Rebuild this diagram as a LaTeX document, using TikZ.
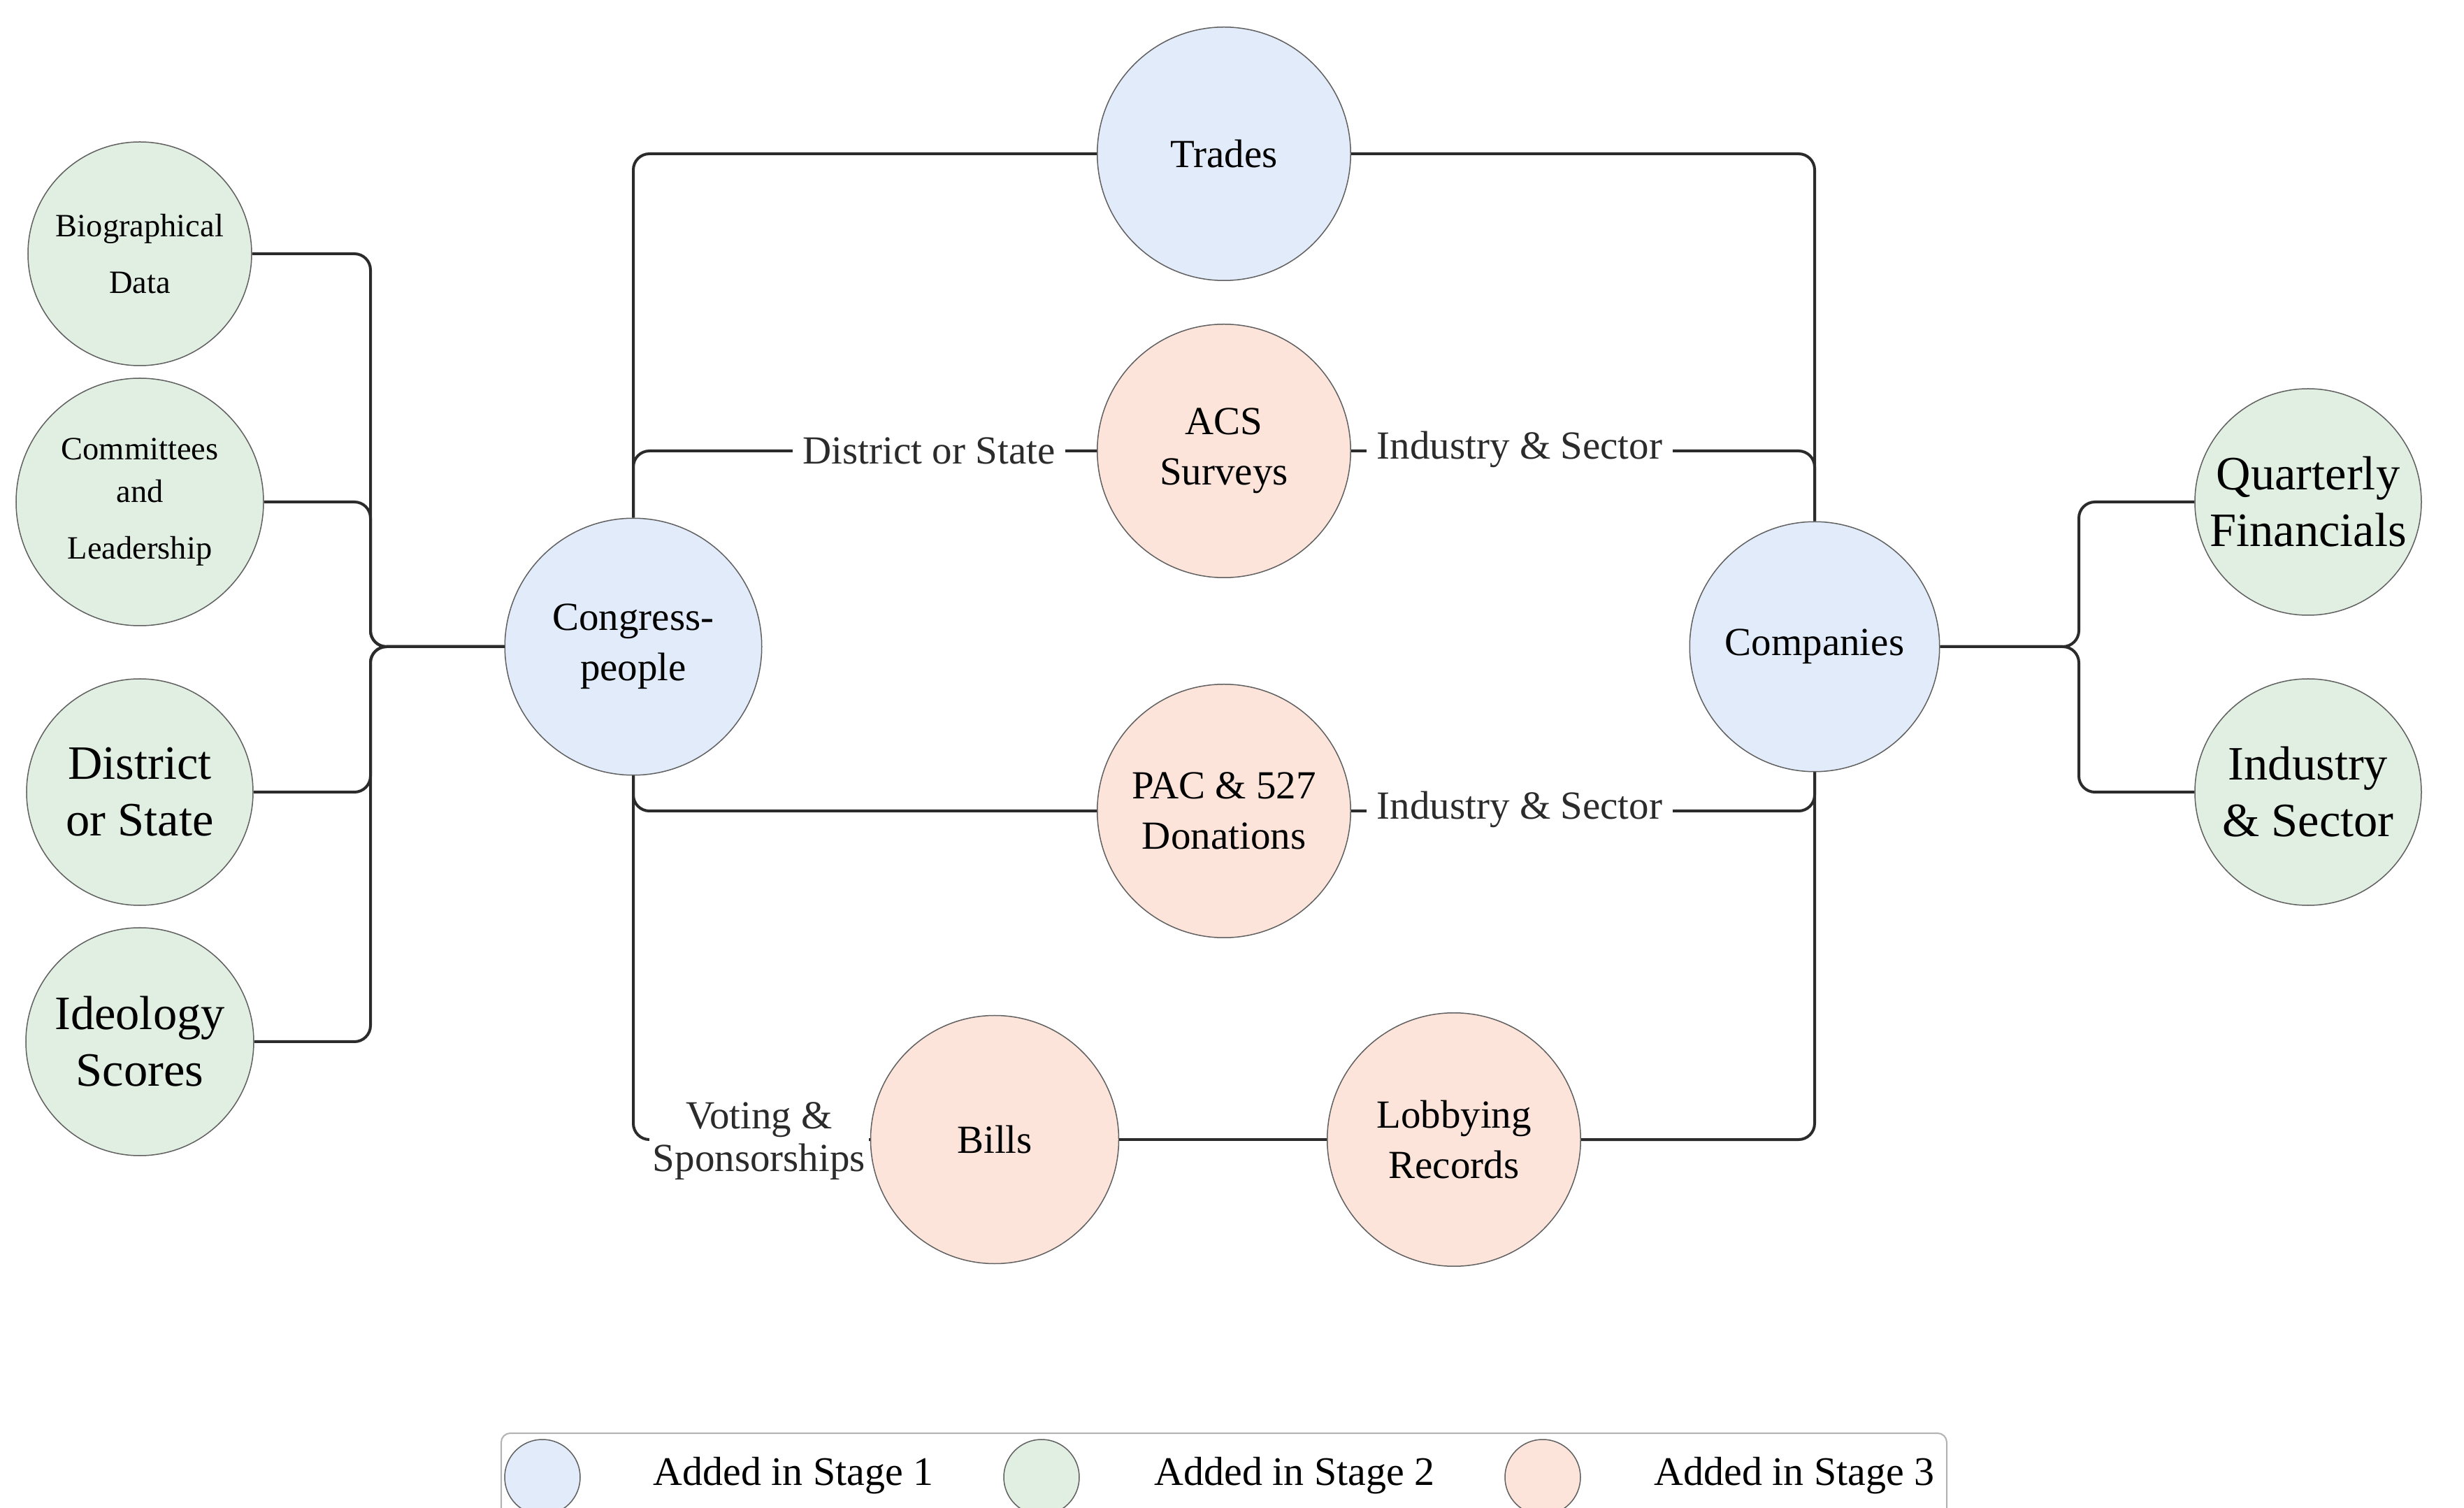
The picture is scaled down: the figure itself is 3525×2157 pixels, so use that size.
\documentclass[tikz,border=0pt]{standalone}
\usepackage{fontspec}
\setmainfont{Liberation Serif}
\definecolor{sblue}{HTML}{E1EBF9}
\definecolor{sgreen}{HTML}{E1EFE2}
\definecolor{sorange}{HTML}{FDE4DA}
\definecolor{cline}{HTML}{2B2B2B}
\definecolor{cborder}{HTML}{606060}
\begin{document}
\begin{tikzpicture}[x=0.2pt,y=-0.2pt,
  circ/.style={circle,draw=cborder,line width=0.3pt,inner sep=0pt,align=center,
    font=\fontsize{11.4}{14.4}\selectfont},
  bigc/.style={circ,font=\fontsize{13.7}{16.2}\selectfont},
  smallc/.style={circ,font=\fontsize{9.3}{16.2}\selectfont},
  st1/.style={fill=sblue},
  st2/.style={fill=sgreen},
  st3/.style={fill=sorange},
  conn/.style={draw=cline,line width=0.8pt,rounded corners=4.6pt},
  elabel/.style={fill=white,inner sep=3pt,align=center,text=cline,
    font=\fontsize{11.4}{12.1}\selectfont},
  legc/.style={circle,draw=cborder,line width=0.3pt,minimum size=21.6pt,inner sep=0pt},
  legtext/.style={font=\fontsize{11.6}{13}\selectfont}]
\useasboundingbox (0,0) rectangle (3525,2157);
\fill[white] (0,0) rectangle (3525,2157);

% nodes
\node[circ,st1,minimum size=72.5pt] (trades) at (1751,220) {Trades};
\node[circ,st3,minimum size=72.5pt] (acs) at (1751,645) {ACS\\Surveys};
\node[circ,st3,minimum size=72.5pt] (pac) at (1751,1160) {PAC \& 527\\Donations};
\node[circ,st1,minimum size=73.5pt] (cong) at (906,925) {Congress-\\people};
\node[circ,st1,minimum size=71.5pt] (comp) at (2596,925) {Companies};
\node[circ,st3,minimum size=71pt] (bills) at (1423,1630) {Bills};
\node[circ,st3,minimum size=72.5pt] (lob) at (2080,1630) {Lobbying\\Records};

\node[smallc,st2,minimum size=64pt] (bio) at (200,363) {Biographical\\Data};
\node[smallc,st2,minimum size=70.8pt] (comm) at (200,718) {Committees\\[-4pt]and\\Leadership};
\node[bigc,st2,minimum size=64.8pt] (dist) at (200,1133) {District\\or State};
\node[bigc,st2,minimum size=65.2pt] (ideo) at (200,1490) {Ideology\\Scores};

\node[bigc,st2,minimum size=64.8pt] (qf) at (3302,718) {Quarterly\\Financials};
\node[bigc,st2,minimum size=64.8pt] (ind) at (3302,1133) {Industry\\\& Sector};

% bus coordinates
\coordinate (lbx) at (530,0);
\coordinate (rbx) at (2974,0);
\coordinate (lbus) at (cong.west -| lbx);
\coordinate (rbus) at (comp.east -| rbx);

% connectors
\draw[conn] (bio.east) -| (lbus) -- (cong.west);
\draw[conn] (comm.east) -| (lbus) -- (cong.west);
\draw[conn] (dist.east) -| (lbus) -- (cong.west);
\draw[conn] (ideo.east) -| (lbus) -- (cong.west);

\draw[conn] (cong.north) |- (trades.west);
\draw[conn] (cong.north) |- (acs.west);
\draw[conn] (cong.south) |- (pac.west);
\draw[conn] (cong.south) |- (bills.west);
\draw[conn] (bills.east) -- (lob.west);
\draw[conn] (lob.east) -| (comp.south);
\draw[conn] (comp.south) |- (pac.east);
\draw[conn] (comp.north) |- (acs.east);
\draw[conn] (comp.north) |- (trades.east);

\draw[conn] (comp.east) -- (rbus) |- (qf.west);
\draw[conn] (comp.east) -- (rbus) |- (ind.west);

% edge labels
\node[elabel] (l1) at (1329,645) {District or State};
\node[elabel] (l2) at (2174,643) {Industry \& Sector};
\node[elabel] (l3) at (2174,1158) {Industry \& Sector};
\node[elabel,inner sep=1pt] (l4) at (1086,1632) {Voting \&\\Sponsorships};

% legend
\draw[draw=black!30,line width=0.4pt,rounded corners=2.6pt] (717,2050) rectangle (2785,2250);
\node[legc,fill=sblue] (lg1) at (776,2113) {};
\node[legc,fill=sgreen] (lg2) at (1490,2113) {};
\node[legc,fill=sorange] (lg3) at (2207,2113) {};
\node[legtext] (lt1) at (1135,2111) {Added in Stage 1};
\node[legtext] (lt2) at (1852,2111) {Added in Stage 2};
\node[legtext] (lt3) at (2567,2111) {Added in Stage 3};
\end{tikzpicture}
\end{document}
